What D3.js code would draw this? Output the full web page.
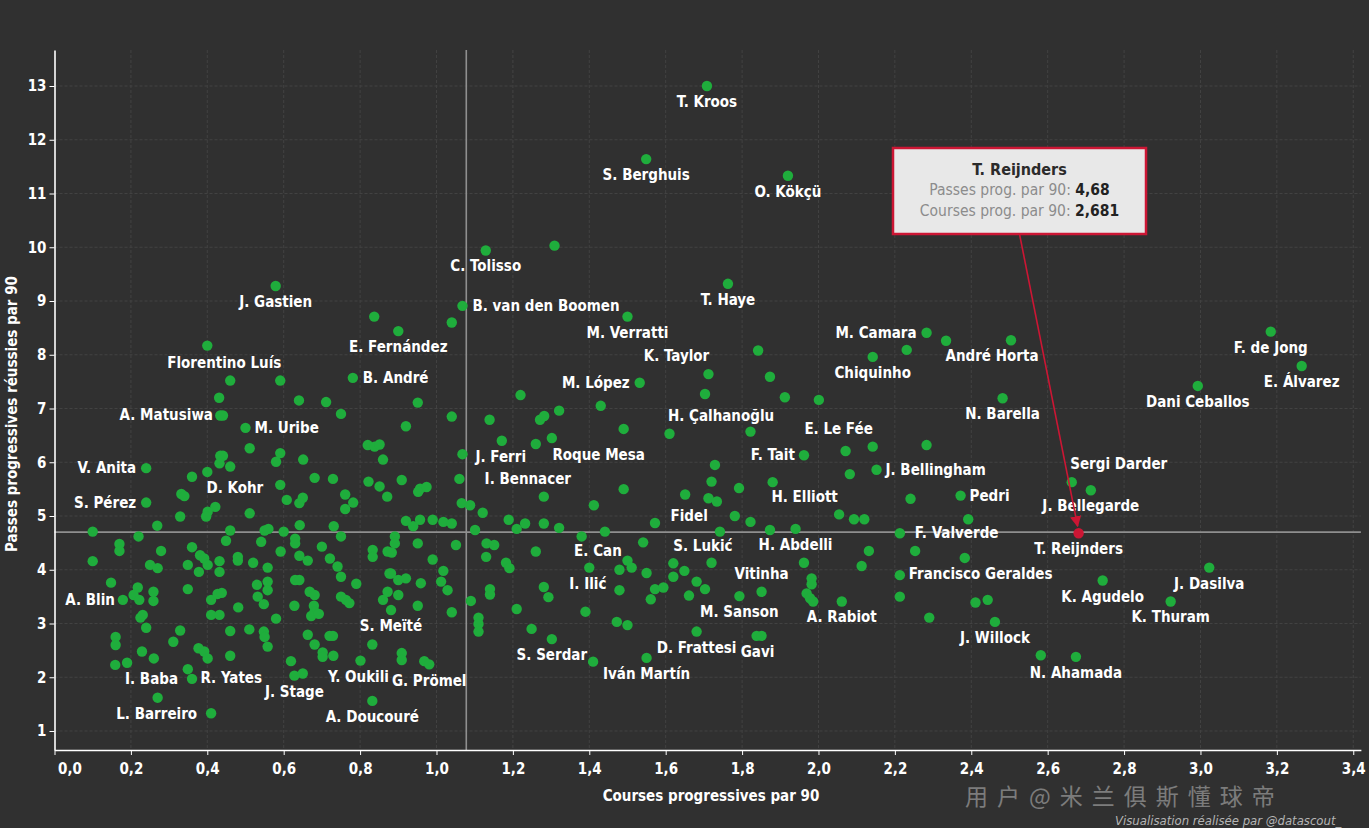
<!DOCTYPE html>
<html><head><meta charset="utf-8">
<script src="https://cdn.jsdelivr.net/npm/d3@7"></script>
<style>
html,body{margin:0;padding:0;background:#303030;overflow:hidden}
svg{display:block}
text{font-family:'DejaVu Sans Condensed','DejaVu Sans',sans-serif;font-stretch:condensed}
</style></head><body>
<svg id="chart" width="1369" height="828"></svg>
<script>
// ---------- DATA ----------
const xTicks = [0,0.2,0.4,0.6,0.8,1.0,1.2,1.4,1.6,1.8,2.0,2.2,2.4,2.6,2.8,3.0,3.2,3.4];
const yTicks = [1,2,3,4,5,6,7,8,9,10,11,12,13];
const medianCarries = 1.078;
const medianPasses = 4.70;
const highlightName = "T. Reijnders";

const labelNames = ["T. Kroos","S. Berghuis","O. Kökçü","C. Tolisso","J. Gastien","B. van den Boomen","T. Haye","M. Verratti","E. Fernández","M. Camara","André Horta","K. Taylor","F. de Jong","Florentino Luís","Chiquinho","B. André","M. López","E. Álvarez","Dani Ceballos","A. Matusiwa","N. Barella","H. Çalhanoğlu","M. Uribe","E. Le Fée","J. Ferri","Roque Mesa","F. Tait","V. Anita","J. Bellingham","I. Bennacer","D. Kohr","H. Elliott","Sergi Darder","Pedri","S. Pérez","J. Bellegarde","Fidel","F. Valverde","E. Can","T. Reijnders","S. Lukić","H. Abdelli","I. Ilić","Francisco Geraldes","Vitinha","A. Blin","J. Dasilva","K. Agudelo","M. Sanson","A. Rabiot","K. Thuram","S. Meïté","J. Willock","S. Serdar","D. Frattesi","Gavi","N. Ahamada","Iván Martín","I. Baba","R. Yates","L. Barreiro","J. Stage","Y. Oukili","G. Prömel","A. Doucouré"];
const labelCarries = [1.708,1.549,1.920,1.129,0.579,1.068,1.763,1.500,0.900,2.283,2.504,1.712,3.184,0.400,2.142,0.781,1.532,3.265,2.993,0.441,2.482,1.703,0.500,2.071,1.068,1.490,1.962,0.240,2.152,1.281,0.591,1.880,2.663,2.372,0.240,2.713,1.651,2.213,1.441,2.681,1.742,1.940,1.479,2.213,1.851,0.179,3.023,2.744,1.793,2.061,2.922,0.881,2.462,1.302,1.681,1.851,2.674,1.550,0.360,0.460,0.410,0.628,0.801,0.981,0.832];
const labelPasses = [13.00,11.64,11.33,9.94,9.28,8.91,9.32,8.71,8.44,8.41,8.27,7.64,8.43,8.17,7.96,7.57,7.48,7.79,7.42,6.87,7.19,7.27,6.64,6.21,6.15,6.62,6.13,5.89,5.86,5.36,5.58,5.63,5.63,5.38,5.25,5.48,5.40,4.68,4.71,4.68,4.71,4.76,3.62,3.90,3.59,3.44,4.04,3.80,3.51,3.41,3.41,3.25,3.03,2.71,2.85,2.77,2.38,2.36,1.97,2.40,1.33,2.03,2.31,2.24,1.56];

const otherPoints = [
[0.46,7.52],[0.591,7.52],[0.431,7.20],[0.640,7.15],[0.711,7.12],[0.750,6.90],[0.434,6.87],
[0.82,6.32],[0.838,6.29],[0.851,6.33],[0.511,6.26],[0.591,6.17],[0.434,6.12],[0.441,6.12],[0.58,6.01],[0.432,5.98],[0.46,5.92],[0.651,6.05],[0.860,6.05],
[0.360,5.73],[0.400,5.82],[0.681,5.71],[0.729,5.69],[0.822,5.64],[0.851,5.55],[0.332,5.41],[0.340,5.37],[0.608,5.30],[0.650,5.34],[0.641,5.24],[0.761,5.40],[0.782,5.25],[0.871,5.36],[0.761,5.13],[0.421,5.17],[0.401,5.08],[0.397,4.99],[0.511,5.05],[0.329,4.99],[0.269,4.82],[0.642,4.83],[0.731,4.81],[0.100,4.71],[0.220,4.62],[0.46,4.73],[0.550,4.73],[0.560,4.76],[0.600,4.71],[0.750,4.62],[0.449,4.54],[0.541,4.52],[0.630,4.58],[0.630,4.49],
[0.170,4.48],[0.170,4.35],[0.279,4.35],[0.360,4.42],[0.700,4.43],[0.833,4.37],[0.833,4.24],[0.872,4.34],[0.100,4.16],[0.381,4.27],[0.392,4.21],[0.401,4.09],[0.432,4.16],[0.480,4.24],[0.480,4.17],[0.520,4.13],[0.592,4.34],[0.641,4.26],[0.663,4.17],[0.721,4.21],[0.741,4.06],[0.750,3.87],[0.877,3.93],[0.250,4.09],[0.270,4.03],[0.349,4.09],[0.378,3.96],[0.432,3.96],[0.558,4.04],[0.148,3.76],[0.218,3.67],[0.207,3.53],[0.222,3.44],[0.259,3.59],[0.259,3.42],[0.349,3.64],[0.410,3.44],[0.427,3.55],[0.438,3.57],[0.481,3.30],[0.410,3.16],[0.432,3.16],[0.530,3.72],[0.558,3.78],[0.558,3.62],[0.532,3.50],[0.548,3.36],[0.630,3.81],[0.641,3.81],[0.628,3.33],[0.668,3.59],[0.681,3.53],[0.679,3.33],[0.681,3.22],[0.672,3.14],[0.692,3.18],[0.580,3.09],[0.750,3.50],[0.763,3.44],[0.772,3.38],[0.790,3.74],[0.860,3.44],[0.872,3.59],[0.225,3.11],[0.231,3.16],[0.240,2.92],[0.329,2.87],[0.460,2.86],[0.510,2.89],[0.548,2.85],[0.550,2.75],[0.558,2.57],[0.663,2.79],[0.720,2.77],[0.729,2.77],[0.681,2.61],[0.702,2.46],[0.702,2.38],[0.730,2.40],[0.160,2.75],[0.160,2.60],[0.311,2.66],[0.229,2.48],[0.260,2.35],[0.159,2.23],[0.190,2.27],[0.377,2.54],[0.392,2.48],[0.401,2.35],[0.619,2.30],[0.650,2.07],[0.832,2.61],[0.349,2.15],[0.270,1.62],
[0.951,7.11],[1.040,6.85],[0.920,6.67],[1.139,6.79],[1.220,7.25],[1.171,6.40],[1.271,6.79],[1.282,6.86],[1.321,6.96],[1.430,7.05],[1.610,6.53],[1.260,6.34],[1.302,6.45],[0.909,5.67],[0.957,5.51],[0.974,5.54],[0.952,5.45],[1.060,5.69],[1.066,5.24],[1.088,5.20],[1.121,5.06],[1.412,5.20],[1.490,5.50],[1.712,5.33],[1.734,5.27],[1.720,5.64],[1.729,5.95],[0.920,4.91],[0.939,4.81],[0.957,4.93],[0.990,4.93],[1.018,4.89],[1.040,4.86],[1.101,4.74],[1.189,4.93],[1.210,4.76],[1.232,4.86],[1.281,4.86],[1.321,4.78],[1.572,4.87],[1.380,4.62],[1.541,4.51],[0.891,4.62],[0.891,4.49],[0.951,4.49],[1.051,4.46],[1.131,4.49],[1.151,4.46],
[0.883,4.32],[1.130,4.24],[0.990,4.19],[1.182,4.13],[1.191,4.03],[1.260,4.34],[1.400,4.04],[1.479,4.00],[1.500,4.17],[1.511,4.04],[1.550,3.94],[1.620,4.12],[1.649,3.98],[1.620,3.87],[1.720,4.13],[1.681,3.78],[1.703,3.64],[1.661,3.52],[1.572,3.64],[1.594,3.67],[1.561,3.45],[0.881,3.93],[0.900,3.81],[0.920,3.84],[0.959,3.75],[1.018,3.98],[1.012,3.78],[1.029,3.62],[0.900,3.53],[0.951,3.33],[1.040,3.21],[1.090,3.42],[1.140,3.64],[1.140,3.54],[1.110,3.11],[1.110,2.99],[1.110,2.85],[1.210,3.27],[1.281,3.68],[1.293,3.49],[1.390,3.22],[1.249,2.90],[1.472,3.03],[1.500,2.97],[1.410,2.29],[0.909,2.45],[0.909,2.32],[0.968,2.30],
[2.334,8.26],[2.231,8.09],[1.842,8.08],[1.873,7.59],[1.912,7.21],[2.001,7.16],[1.822,6.57],[2.142,6.29],[2.283,6.32],[2.082,5.78],[1.792,5.52],[2.241,5.32],[1.781,5.00],[1.822,4.89],[1.873,4.74],[2.054,5.03],[2.093,4.94],[2.120,4.94],[2.392,4.94],
[2.132,4.35],[2.253,4.35],[2.383,4.22],[2.113,4.07],[1.962,4.13],[1.982,3.84],[1.982,3.73],[1.969,3.56],[1.978,3.47],[1.986,3.41],[2.213,3.50],[2.290,3.11],[2.411,3.39],[2.443,3.44],[1.838,2.77],[2.582,2.41],
[1.309,10.03],[0.837,8.71],[1.040,8.60]
];

// ---------- LAYOUT (label placement: anchor, dx, dy in px) ----------
const B=['middle',0,16], L=['end',-10,0], R=['start',10,0];
const labelPlacement = [B,B,B,B,B,R,B,B,B,L,['middle',-19,16],['middle',-32,-18],B,['middle',17,17],B,R,L,B,B,L,B,['middle',16,22],['start',9,0],['middle',-7,-22],['start',13,3],['middle',-25,26],['end',-9,0],L,['start',9,0],['middle',-16,-18],['end',-17,3],['middle',32,15],['middle',47,-18],['start',9,0],L,B,['middle',4,21],['start',15,0],['middle',-7,19],B,['middle',-17,14],B,['end',-13,-6],['start',9,-1],['middle',0,-18],['end',-8,0],B,B,B,B,B,B,B,B,B,['middle',-4,16],B,B,['end',-14,0],['middle',1,22],['end',-14,1],B,['middle',-2,16],['middle',0,17],B];

const W=1369,H=828;
const GREEN='#1fad3c', RED='#cc1634';
const svg=d3.select('#chart');
svg.append('rect').attr('width',W).attr('height',H).attr('fill','#303030');

const x=d3.scaleLinear().domain([0,3.42]).range([54.5,1360.9]);
const y=d3.scaleLinear().domain([0.6465,13.67]).range([750,50]);
const fmt=(v,n)=>v.toFixed(n).replace('.',',');

// grid
const grid=svg.append('g');
grid.selectAll('.vg').data(xTicks.slice(1)).join('line')
  .attr('x1',d=>x(d)).attr('x2',d=>x(d)).attr('y1',50).attr('y2',750)
  .attr('stroke','#424242').attr('stroke-width',1).attr('stroke-dasharray','3,2');
grid.selectAll('.hg').data(yTicks).join('line')
  .attr('x1',x(0)).attr('x2',x(3.42)).attr('y1',d=>y(d)).attr('y2',d=>y(d))
  .attr('stroke','#424242').attr('stroke-width',1).attr('stroke-dasharray','3,2');

// medians
svg.append('line').attr('x1',x(medianCarries)).attr('x2',x(medianCarries)).attr('y1',50).attr('y2',750)
  .attr('stroke','#8f8f8f').attr('stroke-width',1.6);
svg.append('line').attr('x1',x(0)).attr('x2',x(3.42)).attr('y1',y(medianPasses)).attr('y2',y(medianPasses))
  .attr('stroke','#8f8f8f').attr('stroke-width',1.6);

// axes
const xAxis=d3.axisBottom(x).tickValues(xTicks).tickSize(5).tickSizeOuter(0).tickPadding(8).tickFormat(d=>fmt(d,1));
const gx=svg.append('g').attr('transform','translate(0,750)').call(xAxis);
gx.select('.domain').attr('stroke','#fff').attr('stroke-width',1.6);
gx.selectAll('.tick line').attr('stroke','#fff');
gx.selectAll('.tick text').attr('fill','#fff').attr('font-size',15).attr('font-weight','bold')
  .style('font-family',"'DejaVu Sans Condensed','DejaVu Sans',sans-serif");
gx.selectAll('.tick text').filter(d=>d===0).attr('text-anchor','start').attr('x',3);

const yAxis=d3.axisLeft(y).tickValues(yTicks).tickSize(5).tickSizeOuter(0).tickPadding(3);
const gy=svg.append('g').attr('transform',`translate(${x(0)},0)`).call(yAxis);
gy.select('.domain').attr('stroke','#fff').attr('stroke-width',1.6);
gy.selectAll('.tick line').attr('stroke','#fff');
gy.selectAll('.tick text').attr('fill','#fff').attr('font-size',15).attr('font-weight','bold')
  .style('font-family',"'DejaVu Sans Condensed','DejaVu Sans',sans-serif");

// axis titles
svg.append('text').attr('x',711).attr('y',801).attr('text-anchor','middle')
  .attr('fill','#fff').attr('font-size',15).attr('font-weight','bold').text('Courses progressives par 90');
svg.append('text').attr('transform','translate(17,414) rotate(-90)').attr('text-anchor','middle')
  .attr('fill','#fff').attr('font-size',15).attr('font-weight','bold').text('Passes progressives réussies par 90');

// points
const labelled=labelNames.map((n,i)=>({name:n,c:labelCarries[i],p:labelPasses[i],pl:labelPlacement[i]}));
svg.append('g').selectAll('circle').data(otherPoints).join('circle')
  .attr('cx',d=>x(d[0])).attr('cy',d=>y(d[1])).attr('r',5.2).attr('fill',GREEN);
svg.append('g').selectAll('circle').data(labelled.filter(d=>d.name!==highlightName)).join('circle')
  .attr('cx',d=>x(d.c)).attr('cy',d=>y(d.p)).attr('r',5.2).attr('fill',GREEN);

// labels
svg.append('g').selectAll('text').data(labelled).join('text')
  .attr('x',d=>x(d.c)+d.pl[1]).attr('y',d=>y(d.p)+d.pl[2])
  .attr('text-anchor',d=>d.pl[0]).attr('dominant-baseline','central')
  .attr('fill','#fff').attr('font-size',15).attr('font-weight','bold').text(d=>d.name);

// highlighted point + tooltip
const hl=labelled.find(d=>d.name===highlightName);
const hx=x(hl.c), hy=y(hl.p);
const defs=svg.append('defs');
defs.append('marker').attr('id','arr').attr('viewBox','0 0 10 10').attr('refX',9).attr('refY',5)
  .attr('markerWidth',7).attr('markerHeight',7).attr('orient','auto')
  .append('path').attr('d','M0,0 L10,5 L0,10 z').attr('fill',RED);
const box={x:893,y:148,w:253,h:86};
svg.append('line').attr('x1',box.x+box.w/2).attr('y1',box.y+box.h).attr('x2',hx-1).attr('y2',hy-7)
  .attr('stroke',RED).attr('stroke-width',1.6).attr('marker-end','url(#arr)');
svg.append('circle').attr('cx',hx).attr('cy',hy).attr('r',5.2).attr('fill',RED);
svg.append('rect').attr('x',box.x).attr('y',box.y).attr('width',box.w).attr('height',box.h)
  .attr('fill','#e8e8e8').attr('stroke',RED).attr('stroke-width',2.5);
const cx=box.x+box.w/2;
svg.append('text').attr('x',cx).attr('y',box.y+27).attr('text-anchor','middle')
  .attr('fill','#2b2b2b').attr('font-size',16).attr('font-weight','bold').text(hl.name);
const t2=svg.append('text').attr('x',cx).attr('y',box.y+47).attr('text-anchor','middle').attr('font-size',15.5);
t2.append('tspan').attr('fill','#8c8c8c').text('Passes prog. par 90: ');
t2.append('tspan').attr('fill','#222').attr('font-weight','bold').text(fmt(hl.p,2));
const t3=svg.append('text').attr('x',cx).attr('y',box.y+68).attr('text-anchor','middle').attr('font-size',15.5);
t3.append('tspan').attr('fill','#8c8c8c').text('Courses prog. par 90: ');
t3.append('tspan').attr('fill','#222').attr('font-weight','bold').text(fmt(hl.c,3));

// watermark + credit
svg.append('text').attr('x',965).attr('y',805).attr('font-size',23).attr('letter-spacing',9)
  .style('font-family',"'Noto Sans CJK SC',sans-serif").attr('fill','#d8d8d8').attr('opacity',0.45)
  .text('用户@米兰俱斯懂球帝');
svg.append('text').attr('x',1115).attr('y',825).attr('font-size',13).attr('font-style','italic')
  .attr('fill','#b5b5b5').text('Visualisation réalisée par @datascout_');
</script></body></html>
